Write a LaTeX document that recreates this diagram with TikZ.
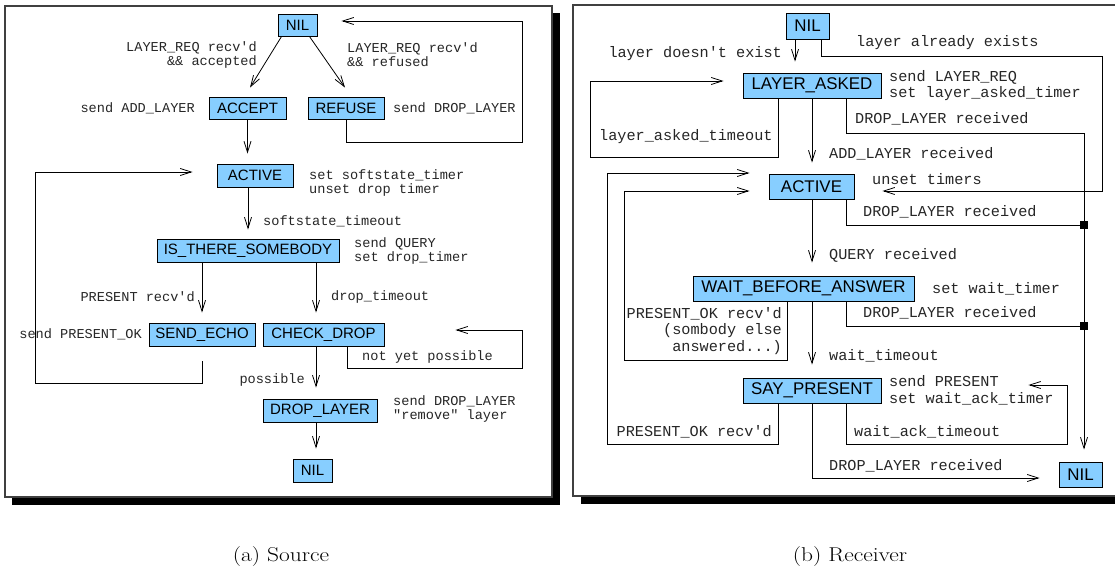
\documentclass[tikz,border=0pt]{standalone}
\usepackage{fontspec}
\usepackage{graphicx}
\newfontfamily\sansf{Liberation Sans}
\newfontfamily\monof{Liberation Mono}
\usetikzlibrary{arrows.meta}
\definecolor{ltblue}{RGB}{135,206,255}
\newcommand\lsans{\sansf\fontsize{15}{17}\selectfont}
\newcommand\rsans{\sansf\fontsize{16.9}{19}\selectfont}
\newcommand\lmono{\monof\fontsize{13.6}{14}\selectfont}
\newcommand\rmono{\monof\fontsize{15.2}{16.8}\selectfont}
\newcommand\capscale[1]{\scalebox{1.17}[1]{#1}}
\tikzset{
  box/.style={draw, fill=ltblue, inner sep=0pt, line width=0.9pt},
  lbox/.style={box, font=\lsans},
  rbox/.style={box, font=\rsans},
  ltxt/.style={inner sep=0pt, font=\lmono, align=left, text=black!85},
  rtxt/.style={inner sep=0pt, font=\rmono, align=left, text=black!85},
  arr/.style={-{Straight Barb[length=11pt,width=7pt]}, line width=0.8pt},
  ln/.style={line width=0.8pt},
  sqbox/.style={fill=black, inner sep=0pt, minimum size=8pt},
  panelframe/.style={draw=black!75, line width=1.1pt, fill=white},
  captxt/.style={inner sep=0pt, font=\fontsize{20}{24}\selectfont}
}
\begin{document}
\begin{tikzpicture}[x=1pt,y=-1pt]
\useasboundingbox (0,0) rectangle (1115,569);
% ---------- frames with shadows ----------
\fill[black] (12,13) rectangle (560,505);
\draw[panelframe] (5,6) rectangle (552,497);
\fill[black] (581,12) rectangle (1130,504);
\draw[panelframe] (573,5) rectangle (1122,496);
% ---------- captions ----------
\node[captxt] (capa) at (281,557) {\capscale{(a) Source}};
\node[captxt] (capb) at (850,557) {\capscale{(b) Receiver}};

% ================= LEFT: Source =================
\node[lbox, minimum width=39pt, minimum height=22pt] (lnil) at (297.5,25) {NIL};
\node[lbox, minimum width=77pt, minimum height=22pt] (lacc) at (247.5,108) {ACCEPT};
\node[lbox, minimum width=76pt, minimum height=22pt] (lref) at (346,108) {REFUSE};
\node[lbox, minimum width=76pt, minimum height=23pt] (lact) at (255,175.5) {ACTIVE};
\node[lbox, minimum width=182pt, minimum height=23pt] (lis) at (248,250.5) {IS\_THERE\_SOMEBODY};
\node[lbox, minimum width=106pt, minimum height=23pt] (lech) at (202,334.5) {SEND\_ECHO};
\node[lbox, minimum width=121pt, minimum height=23pt] (lchk) at (323.5,334.5) {CHECK\_DROP};
\node[lbox, minimum width=114pt, minimum height=23pt] (ldrp) at (320,410.5) {DROP\_LAYER};
\node[lbox, minimum width=39pt, minimum height=23pt] (lnil2) at (312.5,470.5) {NIL};
\coordinate (lx) at (316,0);

\draw[arr] ([xshift=4pt]lnil.south west) -- ([xshift=2.5pt,yshift=9pt]lacc.north);
\draw[arr] ([xshift=-8pt]lnil.south east) -- ([xshift=-1pt,yshift=9pt]lref.north);
\draw[arr] (lref.south) |- (522,142) |- ([xshift=24pt,yshift=4pt]lnil.east);
\draw[arr, shorten >=10pt] (lacc.south) -- (lacc.south |- lact.north);
\draw[arr, shorten >=9pt] (lact.south -| lis.north) -- (lis.north);
\draw[arr, shorten >=10pt] (lis.south -| lech.north) -- (lech.north);
\draw[arr, shorten >=10pt] (lx |- lis.south) -- (lx |- lchk.north);
\draw[arr] ([xshift=23.5pt]lchk.south) |- (522,368) |- ([xshift=71pt,yshift=4.5pt]lchk.east);
\draw[arr, shorten >=11pt] (lx |- lchk.south) -- (lx |- ldrp.north);
\draw[arr, shorten >=10pt] (lx |- ldrp.south) -- (lx |- lnil2.north);
\draw[arr] ([yshift=-15pt]lech.south) |- (35,383) |- ([xshift=-24pt,yshift=3.5pt]lact.west);

\node[ltxt, align=right, anchor=east] (lt1) at (257,54.5) {LAYER\_REQ recv'd\\\&\& accepted};
\node[ltxt, anchor=west] (lt2) at (347,54.5) {LAYER\_REQ recv'd\\\&\& refused};
\node[ltxt, anchor=east] (lt3) at (195,108) {send ADD\_LAYER};
\node[ltxt, anchor=west] (lt4) at (393,108) {send DROP\_LAYER};
\node[ltxt, anchor=west] (lt5) at (309,182.5) {set softstate\_timer\\unset drop timer};
\node[ltxt, anchor=west] (lt6) at (263,221) {softstate\_timeout};
\node[ltxt, anchor=west] (lt7) at (354,250.5) {send QUERY\\set drop\_timer};
\node[ltxt, anchor=east] (lt8) at (195,297) {PRESENT recv'd};
\node[ltxt, anchor=west] (lt9) at (331,297) {drop\_timeout};
\node[ltxt, anchor=east] (lt10) at (142,334) {send PRESENT\_OK};
\node[ltxt, anchor=west] (lt11) at (362,357) {not yet possible};
\node[ltxt, anchor=east] (lt12) at (305,380) {possible};
\node[ltxt, anchor=west] (lt13) at (393,409) {send DROP\_LAYER\\"remove" layer};

% ================= RIGHT: Receiver =================
\node[rbox, minimum width=43pt, minimum height=26pt] (rnil) at (807.5,26) {NIL};
\node[rbox, minimum width=138pt, minimum height=25pt] (rla) at (812,85.5) {LAYER\_ASKED};
\node[rbox, minimum width=85pt, minimum height=25pt] (ract) at (811.5,186.5) {ACTIVE};
\node[rbox, minimum width=221pt, minimum height=25pt] (rwait) at (803.5,288.5) {WAIT\_BEFORE\_ANSWER};
\node[rbox, minimum width=138pt, minimum height=25pt] (rsay) at (812,390.5) {SAY\_PRESENT};
\node[rbox, minimum width=43pt, minimum height=25pt] (rnil2) at (1080.5,474.5) {NIL};
\node[sqbox] (rsq1) at (1084,225) {};
\node[sqbox] (rsq2) at (1084,326) {};
\coordinate (rx) at (812,0);
\coordinate (rx2) at (795,0);
\coordinate (rv) at (1084,0);

\draw[arr, shorten >=11pt] (rx2 |- rnil.south) -- (rx2 |- rla.north);
\draw[arr] ([xshift=13.5pt]rnil.south) |- (1102,56) |- ([xshift=28pt,yshift=-4.5pt]ract.east);
\draw[arr] ([xshift=-34pt]rla.south) |- (590,157) |- ([xshift=-19pt,yshift=4.5pt]rla.west);
\draw[arr, shorten >=11pt] (rx |- rla.south) -- (rx |- ract.north);
\draw[arr, shorten >=12pt] ([xshift=34pt]rla.south) |- (rv |- 0,133) -- (rsq1.center) -- (rsq2.center) -- (rv |- rnil2.north);
\draw[arr, shorten >=13pt] (rx |- ract.south) -- (rx |- rwait.north);
\draw[ln] ([xshift=34.5pt]ract.south) |- (rsq1.center);
\draw[arr, shorten >=13pt] (rx |- rwait.south) -- (rx |- rsay.north);
\draw[ln] ([xshift=42.5pt]rwait.south) |- (rsq2.center);
\draw[arr] ([xshift=-16.5pt]rwait.south) |- (624,360) |- ([xshift=-19pt,yshift=-4.5pt]ract.west);
\draw[arr] ([xshift=-34pt]rsay.south) |- (607,444) |- ([xshift=-19pt,yshift=13.5pt]ract.west);
\draw[arr] ([xshift=34pt]rsay.south) |- (1067,444) |- ([xshift=147pt,yshift=5.5pt]rsay.east);
\draw[arr] (rx |- rsay.south) |- ([xshift=-19pt,yshift=-3.5pt]rnil2.west);
\node[sqbox] at (rsq1) {};
\node[sqbox] at (rsq2) {};

\node[rtxt, anchor=east] (rt1) at (782,54) {layer doesn't exist};
\node[rtxt, anchor=west] (rt2) at (856,43) {layer already exists};
\node[rtxt, anchor=west] (rt3) at (889,85.5) {send LAYER\_REQ\\set layer\_asked\_timer};
\node[rtxt, anchor=west] (rt4) at (599,137) {layer\_asked\_timeout};
\node[rtxt, anchor=west] (rt5) at (855,119) {DROP\_LAYER received};
\node[rtxt, anchor=west] (rt6) at (829,154) {ADD\_LAYER received};
\node[rtxt, anchor=west] (rt7) at (872,179) {unset timers};
\node[rtxt, anchor=west] (rt8) at (863,212) {DROP\_LAYER received};
\node[rtxt, anchor=west] (rt9) at (829,255) {QUERY received};
\node[rtxt, anchor=west] (rt10) at (932,289) {set wait\_timer};
\node[rtxt, anchor=west] (rt11) at (863,313) {DROP\_LAYER received};
\node[rtxt, anchor=east, align=right] (rt12) at (782,331) {PRESENT\_OK recv'd\\(sombody else\\answered...)};
\node[rtxt, anchor=west] (rt13) at (829,356) {wait\_timeout};
\node[rtxt, anchor=west] (rt14) at (889,390) {send PRESENT\\set wait\_ack\_timer};
\node[rtxt, anchor=west] (rt15) at (854,432) {wait\_ack\_timeout};
\node[rtxt, anchor=east] (rt16) at (772,432) {PRESENT\_OK recv'd};
\node[rtxt, anchor=west] (rt17) at (829,466) {DROP\_LAYER received};
\end{tikzpicture}
\end{document}
